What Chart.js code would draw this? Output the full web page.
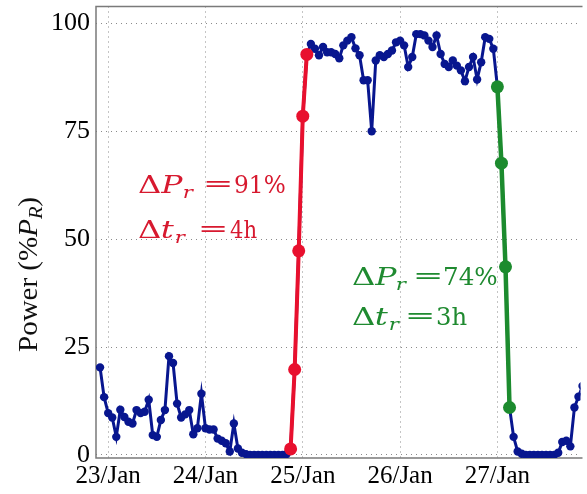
<!DOCTYPE html>
<html>
<head>
<meta charset="utf-8">
<script src="https://cdn.jsdelivr.net/npm/chart.js@4.4.0/dist/chart.umd.min.js"></script>
<style>
  html, body { margin: 0; padding: 0; background: #fff; }
</style>
</head>
<body>
<canvas id="powerChart" width="587" height="494"></canvas>
<script>
// x is in hours counted from 23/Jan 00:00
const dayTicks = [0, 24, 48, 72, 96];
const dayLabels = ['23/Jan', '24/Jan', '25/Jan', '26/Jan', '27/Jan'];
const powerTicks = [0, 25, 50, 75, 100];

// measured power (% of rated), hourly, first sample 22/Jan 22:00
const powerStart = -2;
const power = [
    20.3, 13.4, 9.7, 8.7, 4.2, 10.5, 8.8, 7.7, 7.3, 10.4, 9.7, 10.0,
    12.8, 4.6, 4.2, 8.1, 10.4, 22.9, 21.3, 11.9, 8.7, 9.4, 10.4, 4.8,
    6.2, 14.2, 6.2, 5.9, 5.9, 3.8, 3.3, 2.7, 0.8, 7.3, 1.5, 0.5,
    0.2, 0.0, 0.0, 0.0, 0.0, 0.0, 0.0, 0.0, 0.0, 0.0, 0.2, 1.4,
    19.8, 47.3, 78.5, 92.8, 95.2, 94.1, 92.6, 94.5, 93.3, 93.3, 92.9, 91.9,
    94.9, 96.0, 96.8, 94.2, 92.6, 86.8, 86.8, 75.0, 91.4, 92.6, 92.2, 92.9,
    93.7, 95.6, 96.0, 94.9, 89.9, 92.2, 97.5, 97.5, 97.2, 96.0, 94.5, 97.2,
    92.9, 90.6, 89.9, 91.4, 90.2, 89.1, 86.6, 89.9, 92.2, 87.0, 91.0, 96.8,
    96.4, 94.1, 85.3, 67.6, 43.6, 11.0, 4.2, 0.8, 0.3, 0.0, 0.0, 0.0,
    0.0, 0.0, 0.0, 0.0, 0.0, 0.5, 3.0, 3.3, 2.0, 11.0, 13.5, 16.0
];

// ramp up, 24/Jan 21:00 -> 25/Jan 01:00
const rampUpStart = 45;
const rampUp = [1.4, 19.8, 47.3, 78.5, 92.8];

// ramp down, 27/Jan 00:00 -> 03:00
const rampDownStart = 96;
const rampDown = [85.3, 67.6, 43.6, 11.0];

const toPoints = (start, values) => values.map((v, i) => ({ x: start + i, y: v }));

const blue = '#08168f';
const red = '#e8102e';
const green = '#1c8b2e';

// draws one piece of "math" text, stretched to a given ink width
function piece(ctx, text, x, y, width, font) {
    ctx.font = font;
    const m = ctx.measureText(text);
    const ink = m.actualBoundingBoxLeft + m.actualBoundingBoxRight;
    const sx = width / ink;
    ctx.save();
    ctx.translate(x, y);
    ctx.scale(sx, 1);
    ctx.fillText(text, m.actualBoundingBoxLeft, 0);
    ctx.restore();
}

const up = "25px 'DejaVu Serif'";
const it = "italic 25px 'DejaVu Serif'";
const sub = "italic 17px 'DejaVu Serif'";
const eq = "22px 'DejaVu Serif'";

const noPadding = scale => {
    scale.paddingTop = 0;
    scale.paddingBottom = 0;
    scale.paddingLeft = 0;
    scale.paddingRight = 0;
};

const decorations = {
    id: 'decorations',
    beforeDatasetsDraw(chart) {
        const ctx = chart.ctx;
        const a = chart.chartArea;
        ctx.save();
        ctx.strokeStyle = '#7a7a7a';
        ctx.lineWidth = 1.5;
        ctx.beginPath();
        ctx.moveTo(a.right + 2, a.top);
        ctx.lineTo(a.left, a.top);
        ctx.lineTo(a.left, a.bottom);
        ctx.lineTo(a.right + 2, a.bottom);
        ctx.stroke();
        ctx.restore();
    },
    afterDraw(chart) {
        const ctx = chart.ctx;
        ctx.save();
        ctx.textBaseline = 'alphabetic';
        ctx.textAlign = 'left';

        // ramp up
        ctx.fillStyle = '#d7192f';
        piece(ctx, 'Δ', 138, 193, 22, up);
        piece(ctx, 'P', 160, 193, 24, it);
        piece(ctx, 'r', 184, 198, 10, sub);
        piece(ctx, '=', 206, 191, 25, eq);
        piece(ctx, '91%', 235, 193, 50, up);
        piece(ctx, 'Δ', 138, 238, 22, up);
        piece(ctx, 't', 162, 238, 13, it);
        piece(ctx, 'r', 176, 243, 10, sub);
        piece(ctx, '=', 201, 236, 25, eq);
        piece(ctx, '4h', 230, 238, 27, up);

        // ramp down
        ctx.fillStyle = '#1f8a30';
        piece(ctx, 'Δ', 352, 285, 22, up);
        piece(ctx, 'P', 374, 285, 24, it);
        piece(ctx, 'r', 397, 290, 10, sub);
        piece(ctx, '=', 416, 283, 25, eq);
        piece(ctx, '74%', 445, 285, 52, up);
        piece(ctx, 'Δ', 352, 325, 22, up);
        piece(ctx, 't', 376, 325, 13, it);
        piece(ctx, 'r', 390, 330, 10, sub);
        piece(ctx, '=', 408, 323, 25, eq);
        piece(ctx, '3h', 437, 325, 30, up);

        // y axis title, fitted between y=352 and y=197
        ctx.fillStyle = '#111';
        ctx.translate(37, 352);
        ctx.rotate(-Math.PI / 2);
        const parts = [
            ['Power (%', "27px 'Liberation Serif'", 0],
            ['P', "italic 27px 'Liberation Serif'", 0],
            ['R', "italic 19px 'Liberation Serif'", 5],
            [')', "27px 'Liberation Serif'", 0]
        ];
        let total = 0;
        parts.forEach(([t, f]) => { ctx.font = f; total += ctx.measureText(t).width; });
        ctx.scale(155 / total, 1);
        let x = 0;
        parts.forEach(([t, f, dy]) => {
            ctx.font = f;
            ctx.fillText(t, x, dy);
            x += ctx.measureText(t).width;
        });
        ctx.restore();
    }
};

new Chart(document.getElementById('powerChart'), {
    type: 'line',
    data: {
        datasets: [
            {
                data: toPoints(rampUpStart, rampUp),
                borderColor: red,
                backgroundColor: red,
                borderWidth: 4,
                pointRadius: 6.5,
                pointBorderWidth: 0
            },
            {
                data: toPoints(rampDownStart, rampDown),
                borderColor: green,
                backgroundColor: green,
                borderWidth: 4.5,
                pointRadius: 6.5,
                pointBorderWidth: 0
            },
            {
                data: toPoints(powerStart, power),
                borderColor: blue,
                backgroundColor: blue,
                borderWidth: 3,
                pointRadius: 4.2,
                pointBorderWidth: 0
            }
        ]
    },
    options: {
        responsive: false,
        animation: false,
        layout: { padding: { top: 4, right: 0, bottom: 0, left: 0 } },
        plugins: {
            legend: { display: false },
            tooltip: { enabled: false }
        },
        scales: {
            x: {
                type: 'linear',
                min: -3,
                max: 116.5,
                afterBuildTicks: scale => { scale.ticks = dayTicks.map(v => ({ value: v })); },
                afterFit: scale => { scale.height = 36; noPadding(scale); },
                grid: { color: '#8a8a8a', lineWidth: 1, drawTicks: false },
                border: { display: false, dash: [1, 4] },
                ticks: {
                    padding: 3,
                    color: '#000',
                    font: { family: "'Liberation Serif'", size: 25 },
                    maxRotation: 0,
                    autoSkip: false,
                    callback: value => dayLabels[dayTicks.indexOf(value)]
                }
            },
            y: {
                min: -0.7,
                max: 103.9,
                afterBuildTicks: scale => { scale.ticks = powerTicks.map(v => ({ value: v })); },
                afterFit: scale => { scale.width = 96; noPadding(scale); },
                grid: { color: '#8a8a8a', lineWidth: 1, drawTicks: false },
                border: { display: false, dash: [1, 4] },
                ticks: {
                    padding: 6,
                    color: '#000',
                    font: { family: "'Liberation Serif'", size: 26 }
                }
            }
        }
    },
    plugins: [decorations]
});
</script>
</body>
</html>
